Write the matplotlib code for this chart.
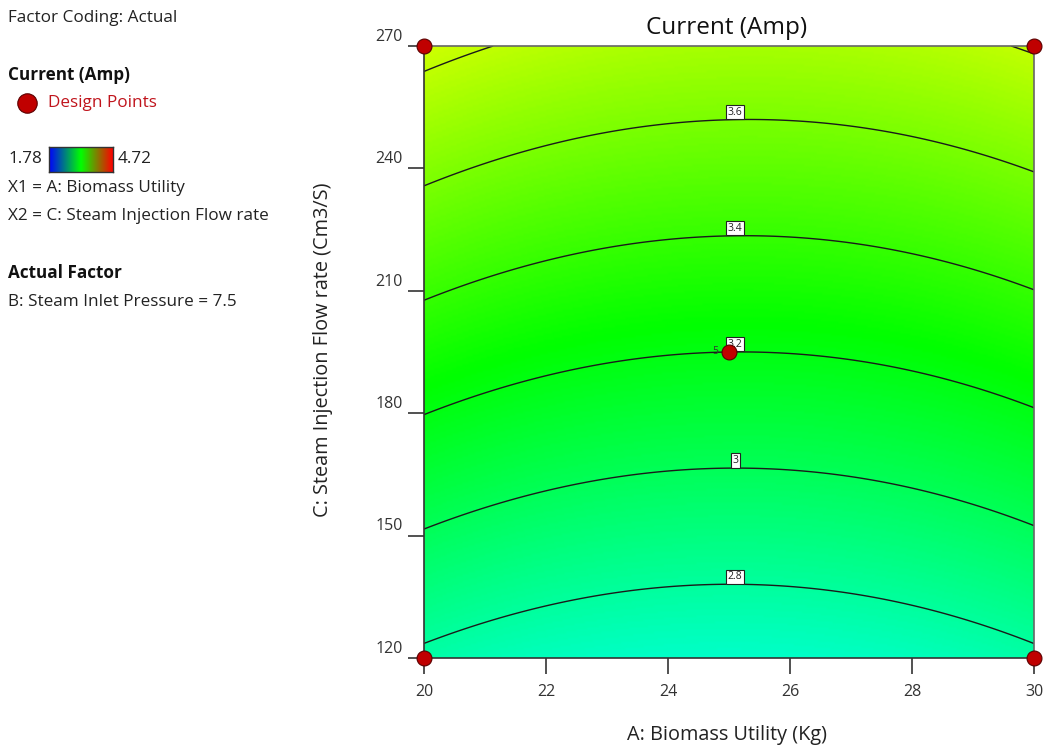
import numpy as np
import matplotlib
matplotlib.use("Agg")
import matplotlib.pyplot as plt
from matplotlib.colors import LinearSegmentedColormap
from matplotlib.transforms import ScaledTranslation
from matplotlib.lines import Line2D

plt.rcParams['font.family'] = ['Open Sans', 'DejaVu Sans']

# ---- data ----
title = "Current (Amp)"
x_label = "A: Biomass Utility (Kg)"
y_label = "C: Steam Injection Flow rate (Cm3/S)"
x_range = [20, 30]
y_range = [120, 270]
x_ticks = [20, 22, 24, 26, 28, 30]
y_ticks = [120, 150, 180, 210, 240, 270]
color_min, color_max = 1.78, 4.72
contour_levels = [2.8, 3.0, 3.2, 3.4, 3.6, 3.8]
labelled_levels = [2.8, 3.0, 3.2, 3.4, 3.6]
# quadratic model in coded units: intercept, A, C, AC, A^2, C^2
coef_names = ["b0", "bA", "bC", "bAC", "bAA", "bCC"]
coef_values = [3.2, -0.0075, 0.527, -0.008, 0.102, 0.0]
design_x = [20, 20, 30, 30, 25]
design_y = [120, 270, 120, 270, 195]
center_reps = 5
legend_lines = ["X1 = A: Biomass Utility", "X2 = C: Steam Injection Flow rate"]
actual_factor = "B: Steam Inlet Pressure = 7.5"

coef = dict(zip(coef_names, coef_values))

def model(A, C):
    a = (A - np.mean(x_range)) / (np.diff(x_range)[0] / 2)
    c = (C - np.mean(y_range)) / (np.diff(y_range)[0] / 2)
    return (coef["b0"] + coef["bA"] * a + coef["bC"] * c + coef["bAC"] * a * c
            + coef["bAA"] * a ** 2 + coef["bCC"] * c ** 2)

cmap = LinearSegmentedColormap.from_list(
    "de", ["#0000ff", "#00ffff", "#00ff00", "#ffff00", "#ff0000"])
cmap_legend = LinearSegmentedColormap.from_list(
    "deleg", ["#0000ff", "#00ff00", "#ff0000"])

fig = plt.figure(figsize=(10.46, 7.49), dpi=100)
ax = fig.add_axes([424 / 1046, 1 - 658 / 749, 610 / 1046, 612 / 749])

gx = np.linspace(*x_range, 300)
gy = np.linspace(*y_range, 300)
GX, GY = np.meshgrid(gx, gy)
Z = model(GX, GY)
ax.imshow(Z, origin="lower", extent=[*x_range, *y_range], aspect="auto",
          cmap=cmap, vmin=color_min, vmax=color_max, interpolation="bilinear")
ax.contour(GX, GY, Z, levels=contour_levels, colors="#1a1a1a", linewidths=1.0)

# contour labels just above the lines
fine_y = np.linspace(*y_range, 3000)
for lev in labelled_levels:
    lx = 25.1
    vals = model(lx, fine_y)
    ly = np.interp(lev, vals, fine_y)
    ax.annotate(f"{lev:g}", (lx, ly), xytext=(0, 1.5), textcoords="offset points",
                ha="center", va="bottom", fontsize=7.5, color="#222222",
                bbox=dict(boxstyle="square,pad=0.15", fc="white", ec="#222222", lw=0.8))

ax.scatter(design_x, design_y, s=115, c="#c00000", edgecolors="#5a0000",
           linewidths=0.8, zorder=5, clip_on=False)
ax.annotate(str(center_reps), (design_x[-1], design_y[-1]), xytext=(-10, 0),
            textcoords="offset points", ha="center", va="center",
            fontsize=7.5, color="#333333")

ax.set_xlim(*x_range)
ax.set_ylim(*y_range)
ax.set_xticks(x_ticks)
ax.set_yticks(y_ticks)
ax.tick_params(direction="out", length=11.5, width=1.2, color="#333333",
               labelsize=11.5, labelcolor="#333333")
ax.tick_params(axis="x", pad=7)
ax.tick_params(axis="y", pad=4)
off = ScaledTranslation(0, 8 / 72, fig.dpi_scale_trans)
for lab in ax.get_yticklabels():
    lab.set_transform(lab.get_transform() + off)
for side in ["left", "bottom"]:
    ax.spines[side].set_color("#333333")
    ax.spines[side].set_linewidth(1.2)
for side in ["top", "right"]:
    ax.spines[side].set_color("#666666")
    ax.spines[side].set_linewidth(1.2)

fig.text(727 / 1046, 1 - 28 / 749, title, ha="center", va="center", fontsize=17.5, color="#111111")
fig.text(727 / 1046, 1 - 735 / 749, x_label, ha="center", va="center", fontsize=14.3, color="#222222")
fig.text(323 / 1046, 1 - 350 / 749, y_label, ha="center", va="center", rotation=90,
         fontsize=14.3, color="#222222")

# left panel
def ftxt(x, y, s, **kw):
    kw.setdefault("fontsize", 12.3)
    kw.setdefault("color", "#222222")
    fig.text(x / 1046, 1 - y / 749, s, ha="left", va="center", **kw)

ftxt(8, 18, "Factor Coding: Actual")
ftxt(8, 75, title, fontweight="bold", color="#111111")
fig.add_artist(Line2D([27 / 1046], [1 - 103 / 749], marker="o",
                      markersize=14, color="#c00000",
                      markeredgecolor="#5a0000", markeredgewidth=0.8,
                      transform=fig.transFigure))
ftxt(48, 103, "Design Points", color="#c0141c")
ftxt(8, 159, f"{color_min:.2f}")
ftxt(118, 159, f"{color_max:.2f}")
cax = fig.add_axes([49 / 1046, 1 - 172 / 749, 64 / 1046, 25 / 749])
cax.imshow(np.linspace(0, 1, 256)[None, :], aspect="auto", cmap=cmap_legend)
cax.set_xticks([])
cax.set_yticks([])
for s in cax.spines.values():
    s.set_color("#333333")
    s.set_linewidth(1)
ftxt(8, 188, legend_lines[0])
ftxt(8, 216, legend_lines[1])
ftxt(8, 273, "Actual Factor", fontweight="bold", color="#111111")
ftxt(8, 302, actual_factor)

fig.savefig("out.png", dpi=100)
